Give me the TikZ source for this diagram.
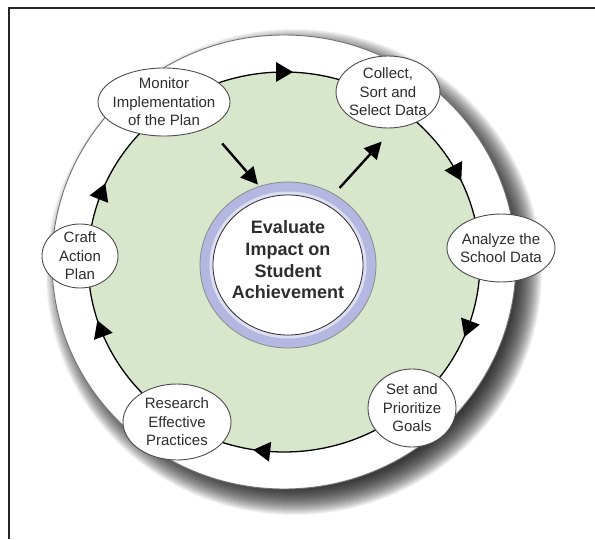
\documentclass[tikz,border=0pt]{standalone}
\usepackage{fontspec}
\setmainfont{Liberation Sans}
\usetikzlibrary{calc,shapes.geometric,arrows.meta}
\definecolor{sage}{RGB}{216,230,203}
\definecolor{lav}{RGB}{180,183,224}
\definecolor{ink}{RGB}{45,45,45}
\begin{document}
\begin{tikzpicture}[x=1pt,y=1pt,
  stage/.style={ellipse, draw=ink!85, line width=0.9pt, fill=white, inner sep=0pt},
  stagetext/.style={align=center, text=ink, font=\fontsize{15}{18.5}\selectfont},
  marker/.style={fill=black},
  bigarrow/.style={line width=2.4pt, black, -{Triangle[length=17pt,width=17pt]}}]
\useasboundingbox (0,0) rectangle (595,539);
% frame
\draw[line width=1.8pt, black!85] (9,0) -- (9,531) -- (595,531);
\coordinate (c) at (284,277);
% soft drop shadow of the cycle disc
\foreach \k in {0,...,29}{
  \fill[black, opacity=0.05] ($(c)+(10,-10)$) ellipse[x radius={248-\k}, y radius={243-\k}];
}
% white ring and green disc
\fill[white] (c) ellipse[x radius=232, y radius=227];
\draw[black!55, line width=0.9pt] (c) ellipse[x radius=232, y radius=227];
\filldraw[fill=sage, draw=black, line width=1.3pt] (c) ellipse[x radius=196, y radius=190];
% direction markers along the cycle (clockwise)
\foreach \a in {90,28,-20.5,263.6,200.6,158.3}{
  \fill[marker, shift={($(c)+(\a:196 and 190)$)}, rotate=\a-90] (9,0) -- (-8,10) -- (-8,-10) -- cycle;
}
% stages
\node[stage, minimum width=132, minimum height=68] (mon) at (164,437) {};
\node[stagetext] at (mon) {Monitor\\Implementation\\of the Plan};
\node[stage, minimum width=104, minimum height=72] (col) at (388,447) {};
\node[stagetext] at (col) {Collect,\\Sort and\\Select Data};
\node[stage, minimum width=108, minimum height=68] (ana) at (501,291) {};
\node[stagetext] at (ana) {Analyze the\\School Data};
\node[stage, minimum width=88, minimum height=78] (set) at (412,131) {};
\node[stagetext] at (set) {Set and\\Prioritize\\Goals};
\node[stage, minimum width=108, minimum height=76] (res) at (177,117) {};
\node[stagetext] at (res) {Research\\Effective\\Practices};
\node[stage, minimum width=76, minimum height=64] (cra) at (80,283) {};
\node[stagetext] at (cra) {Craft\\Action\\Plan};
% centre
\node[ellipse, minimum width=176, minimum height=166, fill=lav, draw=black!45, line width=0.8pt, inner sep=0pt] (ctr) at (288,274) {};
\draw[lav!45, line width=3pt] (ctr.center) ellipse[x radius=77, y radius=72];
\node[ellipse, minimum width=150, minimum height=140, fill=white, draw=ink, line width=0.8pt, inner sep=0pt] (ctrin) at (ctr.center) {};
\node[align=center, text=ink, font=\bfseries\fontsize{18}{21.7}\selectfont] (ctrtxt) at (288,279) {Evaluate\\Impact on\\Student\\Achievement};
% arrows into and out of the centre
\draw[bigarrow, shorten <=21pt, shorten >=2pt] (mon.-30) -- (ctr.110);
\draw[bigarrow, shorten <=8pt, shorten >=18pt] (ctr.57) -- (col.-81);
\end{tikzpicture}
\end{document}
